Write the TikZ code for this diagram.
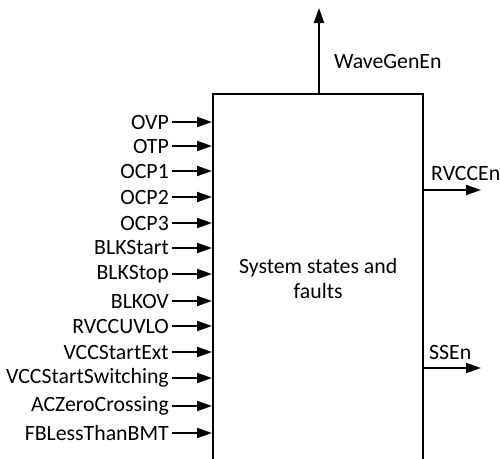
\documentclass[tikz,border=0pt]{standalone}
\usepackage{fontspec}
\setmainfont{Carlito}
\usepackage{tikz}
\usetikzlibrary{arrows.meta,positioning,calc}

\tikzset{
  sig/.style={line width=2pt,-{Triangle[length=15pt,width=10pt]}},
  lbl/.style={font=\fontsize{21.8}{25}\selectfont,inner sep=0pt}
}

\begin{document}
\begin{tikzpicture}[x=1pt,y=-1pt]
  \clip (0,0) rectangle (500,458);
  \useasboundingbox (0,0) rectangle (500,458);

  % Block
  \node[draw,line width=2.4pt,minimum width=210pt,minimum height=368pt,
        anchor=north west,align=center,lbl] (box) at (212,93)
        {System states and\\faults};

  % Inputs
  \foreach \n/\y/\txt in {0/122/OVP, 1/146/OTP, 2/171/OCP1, 3/197/OCP2,
      4/223/OCP3, 5/248/BLKStart, 6/274/BLKStop, 7/301/BLKOV,
      8/326/RVCCUVLO, 9/352/VCCStartExt, 10/378/VCCStartSwitching,
      11/406/ACZeroCrossing, 12/433/FBLessThanBMT} {
    \node[lbl,anchor=east] (I\n) at (169,\y) {\txt};
    \draw[sig] (I\n.east) ++(3,0) -- (I\n.east -| box.west);
  }

  % Outputs
  \coordinate (wave) at (319,8);
  \node[lbl,anchor=west] (WaveGenEn) at (334,62) {WaveGenEn};
  \draw[sig] (wave |- box.north) -- (wave);

  \coordinate (rvcc) at (481,190);
  \node[lbl,anchor=west] (RVCCEn) at (431,173) {RVCCEn};
  \draw[sig] (rvcc -| box.east) -- (rvcc);

  \coordinate (ss) at (481,368);
  \node[lbl,anchor=west] (SSEn) at (429,352) {SSEn};
  \draw[sig] (ss -| box.east) -- (ss);
\end{tikzpicture}
\end{document}
